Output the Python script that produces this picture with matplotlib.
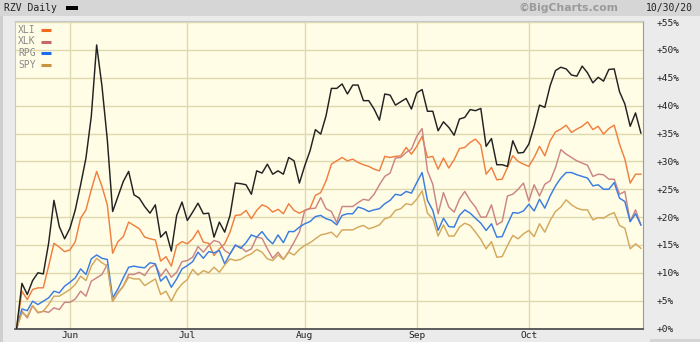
import matplotlib
matplotlib.use("Agg")
import matplotlib.pyplot as plt
from matplotlib.patches import Rectangle

# percent change since May 15 2020, one value per trading day (118 days)
rzv = [0, 8.1, 6.1, 8.6, 10.0, 9.8, 15.3, 23.0, 18.3, 16.1,
       18.0, 21.3, 25.8, 30.6, 38.1, 50.9, 43.5, 33.9, 21.0, 23.7,
       26.4, 28.2, 24.0, 23.4, 21.9, 20.7, 22.2, 16.4, 17.4, 13.9,
       20.3, 22.7, 19.4, 20.9, 22.5, 20.6, 20.7, 16.4, 19.1, 17.3,
       20.3, 26.1, 26.0, 25.8, 24.1, 28.3, 27.9, 29.5, 27.7, 28.3,
       27.7, 30.7, 30.1, 26.1, 29.2, 31.9, 35.7, 34.9, 38.2, 43.1,
       43.1, 43.9, 42.1, 43.7, 43.7, 40.9, 40.9, 39.4, 37.4, 42.1,
       41.9, 40.1, 40.7, 41.3, 39.4, 42.3, 42.9, 39.0, 39.0, 35.5,
       37.1, 36.1, 34.7, 37.6, 37.9, 39.3, 39.1, 39.5, 32.7, 34.1,
       29.4, 29.4, 29.1, 33.7, 31.5, 31.6, 33.1, 36.3, 40.1, 39.7,
       43.6, 46.3, 46.9, 46.6, 45.5, 45.3, 47.1, 45.9, 44.1, 45.1,
       44.4, 46.5, 46.6, 42.5, 40.3, 36.3, 38.7, 35.1]
xli = [0, 6.7, 5.2, 7.0, 7.3, 7.3, 11.2, 15.3, 14.6, 13.8,
       14.1, 15.6, 19.8, 21.3, 24.9, 28.2, 25.5, 22.2, 13.5, 15.6,
       16.5, 19.1, 18.5, 17.9, 16.4, 16.1, 15.9, 12.1, 12.9, 11.2,
       14.9, 15.6, 15.2, 16.1, 17.6, 15.5, 15.3, 13.1, 14.3, 15.2,
       17.3, 20.3, 20.4, 21.2, 19.7, 21.2, 22.2, 21.8, 20.9, 21.4,
       20.6, 22.4, 21.2, 20.7, 21.2, 21.6, 23.9, 24.4, 26.5, 29.5,
       30.1, 30.7, 30.1, 30.4, 29.8, 29.4, 29.1, 28.6, 28.3, 30.9,
       30.7, 30.9, 31.0, 32.5, 31.3, 32.7, 34.5, 30.7, 30.9, 28.6,
       30.6, 28.8, 30.3, 32.3, 32.5, 33.4, 34.0, 32.9, 27.7, 28.9,
       26.7, 26.8, 28.9, 31.0, 30.0, 29.5, 29.1, 30.7, 32.7, 31.0,
       33.7, 35.3, 35.8, 36.5, 35.2, 35.8, 36.3, 37.1, 35.7, 36.3,
       34.9, 35.9, 36.5, 33.1, 30.4, 26.1, 27.7, 27.7]
xlk = [0, 3.1, 1.9, 4.1, 2.8, 3.1, 2.9, 3.7, 3.4, 4.7,
       4.7, 5.3, 6.7, 5.8, 8.5, 9.1, 9.7, 11.5, 4.9, 6.4,
       7.6, 9.7, 9.7, 10.1, 9.5, 10.9, 11.5, 9.4, 10.7, 9.2,
       10.1, 12.0, 12.2, 12.8, 14.7, 13.7, 14.9, 15.8, 15.5, 14.0,
       13.4, 14.9, 14.6, 13.8, 14.3, 16.4, 16.2, 14.3, 12.6, 13.7,
       12.4, 13.8, 15.5, 17.3, 21.2, 21.5, 21.6, 23.5, 21.5, 21.0,
       19.0, 21.9, 21.9, 21.9, 22.6, 23.2, 23.0, 24.1, 25.8, 27.3,
       27.9, 30.6, 30.7, 31.6, 32.2, 34.5, 35.9, 28.3, 25.9, 20.6,
       24.4, 21.8, 20.9, 23.2, 24.6, 23.0, 21.8, 20.0, 20.0, 22.2,
       18.6, 19.2, 23.8, 24.1, 25.0, 26.1, 22.9, 25.8, 23.8, 25.9,
       26.5, 28.9, 32.1, 31.3, 30.7, 30.1, 29.7, 29.3, 27.3, 27.7,
       27.6, 26.8, 26.8, 24.1, 24.6, 19.2, 21.3, 18.6]
rpg = [0, 3.5, 3.2, 4.9, 4.3, 4.9, 5.5, 6.7, 6.4, 7.6,
       8.3, 9.1, 10.7, 9.7, 12.5, 13.2, 12.6, 12.4, 5.5, 7.1,
       9.1, 11.0, 11.2, 11.0, 10.9, 11.8, 11.6, 8.5, 9.4, 7.4,
       8.9, 10.7, 11.3, 12.0, 13.7, 12.6, 13.8, 13.6, 14.0, 11.6,
       13.4, 15.0, 14.4, 15.4, 16.8, 16.4, 17.4, 16.1, 15.2, 16.8,
       15.4, 17.4, 17.4, 18.2, 18.8, 19.2, 20.1, 20.3, 19.7, 19.4,
       18.6, 20.3, 20.6, 20.6, 21.8, 21.5, 21.0, 21.3, 21.5, 22.4,
       23.0, 24.1, 23.9, 24.6, 24.3, 26.2, 28.0, 23.0, 21.2, 17.6,
       19.8, 18.3, 18.2, 20.3, 21.3, 20.7, 19.8, 18.9, 17.6, 18.8,
       16.4, 16.5, 18.7, 20.8, 20.7, 21.1, 22.3, 21.1, 23.2, 21.6,
       23.8, 25.6, 27.0, 28.0, 28.0, 27.6, 27.3, 27.0, 25.6, 25.8,
       25.0, 25.0, 26.2, 23.4, 22.8, 19.2, 20.6, 18.6]
spy = [0, 2.8, 2.2, 4.1, 2.9, 3.1, 4.3, 5.8, 5.8, 6.4,
       7.0, 7.9, 9.4, 8.6, 11.2, 12.6, 11.8, 11.2, 4.9, 6.4,
       7.6, 9.2, 8.9, 8.9, 7.7, 8.3, 8.9, 6.1, 6.7, 4.9,
       6.8, 8.0, 8.8, 10.6, 9.6, 10.4, 10.0, 11.0, 10.1, 11.4,
       12.5, 12.2, 12.4, 13.0, 13.4, 14.2, 13.7, 12.5, 12.2, 13.2,
       12.4, 13.7, 13.2, 14.2, 14.9, 15.4, 16.1, 16.8, 17.0, 17.3,
       16.4, 17.7, 17.7, 17.7, 18.2, 18.5, 17.9, 18.2, 18.6, 19.7,
       20.0, 21.2, 21.5, 22.4, 22.2, 23.2, 24.7, 20.7, 19.7, 16.6,
       18.6, 16.6, 16.6, 18.2, 18.9, 18.5, 17.3, 16.0, 14.3, 15.6,
       12.8, 12.9, 14.9, 16.7, 16.1, 17.0, 17.6, 16.5, 18.8, 17.3,
       19.4, 21.0, 21.8, 23.1, 22.2, 21.6, 21.3, 21.3, 19.5, 19.9,
       19.8, 20.4, 20.8, 18.5, 18.0, 14.3, 15.2, 14.4]

month_labels = ["Jun", "Jul", "Aug", "Sep", "Oct"]
month_starts = [10, 32, 54, 75, 96]  # trading-day index of first day of month
yticks = list(range(0, 56, 5))

series = [
    ("XLI", xli, "#f08040"),
    ("XLK", xlk, "#cc8585"),
    ("RPG", rpg, "#3a7de0"),
    ("SPY", spy, "#d4a85c"),
]
legend_colors = {"XLI": "#f26a1e", "XLK": "#c86868", "RPG": "#1c6ee8", "SPY": "#c89440"}

W, H = 700, 342
fig = plt.figure(figsize=(W / 100, H / 100), dpi=100)
fig.patch.set_facecolor("#ebebeb")
mono = "DejaVu Sans Mono"

# header bar and side strips
fig.patches.append(Rectangle((0, 1 - 16 / H), 1, 16 / H, transform=fig.transFigure,
                             facecolor="#d6d6d6", edgecolor="none", zorder=0))
fig.patches.append(Rectangle((0, 0), 3 / W, 1 - 16 / H, transform=fig.transFigure,
                             facecolor="#cfcfcf", edgecolor="none", zorder=0))
fig.patches.append(Rectangle((650 / W, 0), 50 / W, 3 / H, transform=fig.transFigure,
                             facecolor="#d4d4d4", edgecolor="none", zorder=0))
fig.text(4 / W, 1 - 8 / H, "RZV Daily", family=mono, fontsize=7, color="#222222",
         va="center", ha="left")
fig.patches.append(Rectangle((66 / W, 1 - 9.5 / H), 12 / W, 3.5 / H, transform=fig.transFigure,
                             facecolor="black", edgecolor="none", zorder=2))
fig.text(569 / W, 1 - 8 / H, "\u00a9BigCharts.com", fontsize=7.8, color="#9a9a9a",
         weight="bold", va="center", ha="center")
fig.text(693 / W, 1 - 8 / H, "10/30/20", family=mono, fontsize=7, color="#222222",
         va="center", ha="right")

ax = fig.add_axes([15 / W, 13.5 / H, 628 / W, 307.5 / H])
ax.set_facecolor("#fffde6")

x = list(range(len(rzv)))
for name, vals, col in series:
    ax.plot(x, vals, color=col, lw=1.05, zorder=3)
ax.plot(x, rzv, color="#222222", lw=1.05, zorder=4)

ax.set_xlim(-0.3, 117.4)
ax.set_ylim(0, 55.2)
ax.set_yticks(yticks)
ax.set_yticklabels(["+%d%%" % v for v in yticks], family=mono, fontsize=6.8, color="#222222")
ax.yaxis.tick_right()
ax.tick_params(axis="y", length=0, pad=10)
ax.set_xticks(month_starts)
ax.set_xticklabels(month_labels, family=mono, fontsize=6.8, color="#222222")
ax.tick_params(axis="x", length=0, pad=2)
ax.grid(True, color="#dcd8b0", lw=1.0, zorder=1)
ax.set_axisbelow(True)

for s in ["top", "left"]:
    ax.spines[s].set_color("#c8c8c8")
    ax.spines[s].set_linewidth(0.8)
ax.spines["right"].set_color("#9a9a9a")
ax.spines["right"].set_linewidth(0.8)
ax.spines["right"].set_linestyle((0, (2, 1)))
ax.spines["bottom"].set_color("#444444")
ax.spines["bottom"].set_linewidth(1.2)
ax.spines["bottom"].set_linestyle((0, (2, 1)))

# legend in the top-left corner
for k, (name, vals, col) in enumerate(series):
    yy = 1 - (9 + 11.5 * k) / 307.5
    ax.text(3 / 628, yy, name, transform=ax.transAxes, family=mono, fontsize=7,
            color="#8a8a8a", va="center", ha="left", zorder=5)
    ax.plot([26 / 628, 36 / 628], [yy, yy], transform=ax.transAxes, color=legend_colors[name],
            lw=2.2, solid_capstyle="butt", zorder=5)

fig.savefig("out.png", dpi=100, facecolor=fig.get_facecolor())
